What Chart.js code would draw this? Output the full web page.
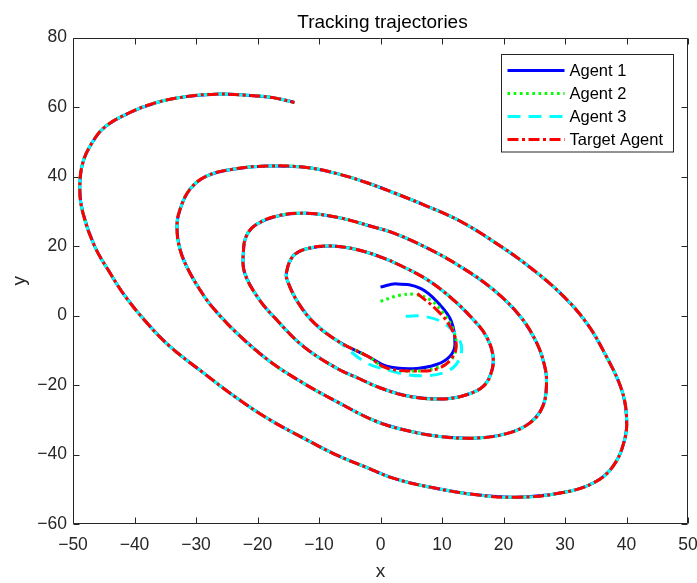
<!DOCTYPE html>
<html>
<head>
<meta charset="utf-8">
<script src="https://cdn.jsdelivr.net/npm/chart.js@4.4.1/dist/chart.umd.min.js"></script>
<style>
html,body{margin:0;padding:0;background:#ffffff;}
canvas{display:block;}
</style>
</head>
<body>
<canvas id="c" width="697" height="583"></canvas>
<script>
// ---------- data ----------
const xTicks = [-50, -40, -30, -20, -10, 0, 10, 20, 30, 40, 50];
const yTicks = [-60, -40, -20, 0, 20, 40, 60, 80];

const seriesNames = ['Agent 1', 'Agent 2', 'Agent 3', 'Target Agent'];

const targetX = [6.0, 9.1, 11.3, 12.3, 11.8, 9.6, 5.9, 1.0, -2.0, -6.9, -10.8, -13.4, -15.0, -15.3, -14.2, -12.0, -8.2, -3.9, 0.4, 3.0,
  7.5, 11.8, 15.1, 17.2, 18.3, 18.0, 16.7, 14.0, 10.2, 4.8, -0.1, -3.4, -7.2, -12.6, -16.9, -19.8, -22.1, -22.3, -21.8, -20.2,
  -16.4, -12.0, -6.6, -2.0, 2.05, 7.5, 12.9, 18.3, 22.7, 25.4, 26.7, 27.0, 26.4, 24.3, 20.5, 15.1, 9.6, 4.8, -0.65, -7.2,
  -12.6, -18.0, -23.4, -27.0, -28.5, -31.0, -32.6, -33.1, -32.6, -31.0, -28.3, -24.0, -18.5, -12.0, -6.6, -2.2, 2.05, 7.5, 12.9, 18.3,
  23.7, 29.2, 33.5, 36.7, 39.2, 40.0, 39.7, 37.8, 34.6, 29.2, 22.1, 15.6, 7.5, 2.05, -2.0, -7.2, -12.6, -18.0, -23.4, -28.8,
  -34.3, -38.0, -41.5, -44.0, -46.5, -48.4, -48.9, -48.4, -46.8, -44.8, -41.0, -36.4, -31.5, -26.7, -21.8, -17.5, -14.0];
const targetY = [6.3, 1.7, -3.1, -7.9, -11.7, -15.1, -16.0, -15.1, -11.8, -7.4, -2.1, 3.7, 9.4, 12.3, 17.1, 19.2, 20.0, 19.0, 16.6, 14.6,
  10.4, 4.6, -1.2, -6.0, -11.7, -16.5, -20.4, -22.8, -24.0, -23.3, -20.8, -18.2, -15.1, -8.8, -1.2, 4.8, 12.3, 18.1, 22.9, 26.2,
  28.8, 29.4, 28.1, 25.9, 23.8, 19.5, 14.2, 7.5, -0.2, -7.9, -14.6, -19.4, -26.1, -30.9, -34.0, -35.3, -34.8, -33.3, -30.5, -24.7,
  -19.4, -13.2, -5.0, 1.7, 5.1, 12.3, 19.0, 25.7, 30.5, 36.3, 40.1, 42.1, 43.0, 42.6, 40.6, 38.2, 35.4, 31.5, 27.2, 21.4,
  14.7, 6.5, -2.1, -11.7, -21.3, -29.0, -35.7, -43.4, -48.2, -51.1, -52.3, -51.6, -49.2, -46.8, -43.9, -40.1, -35.2, -30.0, -23.7, -16.5,
  -8.8, -2.1, 5.5, 12.3, 20.0, 29.6, 36.3, 44.0, 50.0, 54.3, 58.2, 61.3, 63.0, 63.7, 63.4, 62.7, 61.3];

// start of each agent before it joins the target trajectory
const agent1StartX = [0.0, 2.6, 6.5, 9.6, 11.5, 12.1, 11.3, 9.1, 5.3, 1.0];
const agent1StartY = [8.2, 9.1, 7.8, 3.2, -1.6, -8.4, -11.7, -14.1, -15.3, -14.6];
const agent1Join = 8;

const agent2StartX = [0.0, 3.1, 5.6, 8.0, 10.2, 11.8, 12.3, 11.5, 9.1, 5.3, 1.0];
const agent2StartY = [4.1, 5.8, 6.05, 4.6, 0.8, -4.0, -8.8, -12.7, -15.1, -16.0, -15.2];
const agent2Join = 8;

const agent3StartX = [4.1, 6.9, 10.2, 12.6, 13.2, 12.3, 10.2, 7.5, 4.2, 1.0, -2.3];
const agent3StartY = [-0.2, -0.2, -2.1, -6.4, -9.8, -14.1, -16.5, -17.3, -17.0, -15.6, -13.6];
const agent3Join = 9;

// ---------- build points ----------
function toPoints(xs, ys) { return xs.map((x, i) => ({ x: x, y: ys[i] })); }
const targetPts = toPoints(targetX, targetY);
const agent1Pts = toPoints(agent1StartX, agent1StartY).concat(targetPts.slice(agent1Join));
const agent2Pts = toPoints(agent2StartX, agent2StartY).concat(targetPts.slice(agent2Join));
const agent3Pts = toPoints(agent3StartX, agent3StartY).concat(targetPts.slice(agent3Join));

const FONT = '"Liberation Sans", Arial, Helvetica, sans-serif';
const AX = '#262626';

function fmt(v) { return v < 0 ? '\u2212' + Math.abs(v) : String(v); }

const common = { showLine: true, pointRadius: 0, pointHoverRadius: 0, borderWidth: 3, tension: 0.4, fill: false };

const axesBox = {
  id: 'axesBox',
  beforeDatasetsDraw(chart) {
    const { ctx, chartArea: a, scales } = chart;
    const L = Math.round(a.left) + 0.5, R = Math.round(a.right) - 0.5;
    const T = Math.round(a.top) + 0.5, B = Math.round(a.bottom) - 0.5;
    const tl = 6;
    ctx.save();
    ctx.strokeStyle = AX;
    ctx.lineWidth = 1;
    ctx.setLineDash([]);
    ctx.beginPath();
    ctx.rect(L, T, R - L, B - T);
    xTicks.forEach(v => {
      const p = Math.round(scales.x.getPixelForValue(v)) + 0.5;
      ctx.moveTo(p, B); ctx.lineTo(p, B - tl);
      ctx.moveTo(p, T); ctx.lineTo(p, T + tl);
    });
    yTicks.forEach(v => {
      const p = Math.round(scales.y.getPixelForValue(v)) + 0.5;
      ctx.moveTo(L, p); ctx.lineTo(L + tl, p);
      ctx.moveTo(R, p); ctx.lineTo(R - tl, p);
    });
    ctx.stroke();
    ctx.restore();
  },
  afterDraw(chart) {
    const { ctx, chartArea: a } = chart;
    ctx.save();
    // title
    ctx.fillStyle = '#000000';
    ctx.font = '19px ' + FONT;
    ctx.textAlign = 'center';
    ctx.textBaseline = 'middle';
    ctx.fillText('Tracking trajectories', (a.left + a.right) / 2 + 2, 23);
    // legend
    const bw = 172, bh = 97.5;
    const bx = Math.round(a.right - 15 - bw) + 0.5, by = Math.round(a.top + 16) + 0.5;
    ctx.fillStyle = '#ffffff';
    ctx.fillRect(bx, by, bw, bh);
    ctx.strokeStyle = AX;
    ctx.lineWidth = 1;
    ctx.setLineDash([]);
    ctx.strokeRect(bx, by, bw, bh);
    ctx.font = '16.5px ' + FONT;
    ctx.textAlign = 'left';
    ctx.textBaseline = 'middle';
    chart.data.datasets.forEach((ds, i) => {
      const ry = by + 16 + i * 23;
      ctx.save();
      ctx.strokeStyle = ds.borderColor;
      ctx.lineWidth = ds.borderWidth;
      ctx.setLineDash(ds.borderDash || []);
      ctx.beginPath();
      ctx.moveTo(bx + 6, ry);
      ctx.lineTo(bx + 63, ry);
      ctx.stroke();
      ctx.restore();
      ctx.fillStyle = '#000000';
      ctx.fillText(ds.label, bx + 68, ry + 1);
    });
    ctx.restore();
  }
};

new Chart(document.getElementById('c'), {
  type: 'scatter',
  data: {
    datasets: [
      Object.assign({}, common, { label: seriesNames[0], data: agent1Pts, borderColor: '#0000ff', borderDash: [], order: 4 }),
      Object.assign({}, common, { label: seriesNames[1], data: agent2Pts, borderColor: '#00ff00', borderDash: [2.6, 3.6], order: 3 }),
      Object.assign({}, common, { label: seriesNames[2], data: agent3Pts, borderColor: '#00ffff', borderDash: [13, 8], order: 2 }),
      Object.assign({}, common, { label: seriesNames[3], data: targetPts, borderColor: '#ff0000', borderDash: [11, 3.5, 3, 3.5], order: 1 })
    ]
  },
  options: {
    responsive: false,
    animation: false,
    devicePixelRatio: 1,
    layout: { padding: { top: 37.5, right: 9, left: 0, bottom: 0 } },
    plugins: { legend: { display: false }, tooltip: { enabled: false }, title: { display: false } },
    scales: {
      x: {
        type: 'linear', min: -50, max: 50,
        afterBuildTicks: s => { s.ticks = xTicks.map(v => ({ value: v })); },
        afterFit: s => { s.height = 59; s.paddingLeft = 0; s.paddingRight = 0; },
        ticks: { callback: fmt, autoSkip: false, maxRotation: 0, padding: 11, color: AX, font: { size: 17.5, family: FONT } },
        grid: { display: false, drawTicks: false },
        border: { display: false },
        title: { display: true, text: 'x', color: AX, font: { size: 19, family: FONT }, padding: { top: 0, bottom: 0 } }
      },
      y: {
        type: 'linear', min: -60, max: 80,
        afterBuildTicks: s => { s.ticks = yTicks.map(v => ({ value: v })); },
        afterFit: s => { s.width = 73; s.paddingTop = 0; s.paddingBottom = 0; },
        ticks: { callback: fmt, autoSkip: false, padding: 6, color: AX, font: { size: 17.5, family: FONT } },
        grid: { display: false, drawTicks: false },
        border: { display: false },
        title: { display: true, text: 'y', color: AX, font: { size: 19, family: FONT }, padding: { top: 8, bottom: 0 } }
      }
    }
  },
  plugins: [axesBox]
});
</script>
</body>
</html>
